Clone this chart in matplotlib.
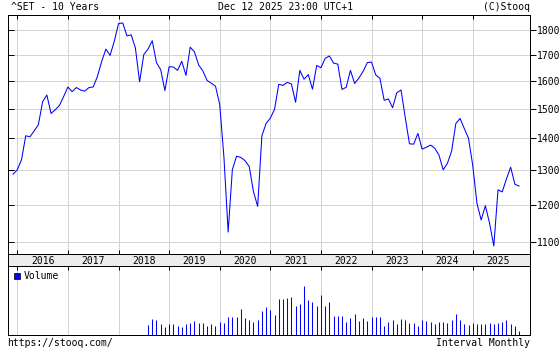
import matplotlib
matplotlib.use("Agg")
import matplotlib.pyplot as plt
import numpy as np
import pandas as pd

# monthly close of ^SET, Dec 2015 .. Dec 2025
close = [1288, 1301, 1332, 1408, 1405, 1424, 1445, 1524, 1548, 1483, 1496, 1511, 1543,
         1577, 1560, 1575, 1566, 1562, 1575, 1577, 1616, 1673, 1722, 1697, 1754,
         1827, 1830, 1776, 1780, 1727, 1596, 1701, 1722, 1756, 1669, 1642, 1564,
         1653, 1652, 1639, 1674, 1620, 1730, 1711, 1660, 1637, 1601, 1591, 1580,
         1514, 1340, 1126, 1302, 1343, 1339, 1329, 1311, 1237, 1195, 1408, 1449,
         1467, 1497, 1587, 1583, 1594, 1588, 1522, 1639, 1606, 1623, 1569, 1658,
         1649, 1685, 1695, 1667, 1663, 1568, 1576, 1639, 1590, 1610, 1635, 1669,
         1671, 1622, 1609, 1529, 1534, 1503, 1556, 1566, 1469, 1382, 1381, 1416,
         1365, 1371, 1378, 1368, 1346, 1301, 1321, 1359, 1449, 1466, 1432, 1400,
         1315, 1204, 1158, 1197, 1149, 1090, 1242, 1236, 1274, 1309, 1258, 1253]

# monthly volume (relative units), Aug 2018 .. Dec 2025
volume = [30, 47, 44, 32, 24, 32, 32, 27, 24, 32, 34, 41, 35, 34, 27, 33, 27, 39, 36, 54,
          54, 54, 78, 51, 45, 39, 44, 72, 84, 74, 60, 108,
          108, 111, 114, 87, 93, 147, 105, 99, 87, 120, 87, 99, 57, 57, 57, 39, 51, 63, 42, 51,
          42, 54, 54, 54, 27, 39, 45, 33, 48, 45, 36, 36, 27, 45, 42, 39, 33, 39, 39, 36,
          45, 63, 45, 33, 30, 36, 33, 33, 33, 36, 33, 36, 39, 45, 33, 27, 12]

years = list(range(2016, 2026))
price_ticks = [1100, 1200, 1300, 1400, 1500, 1600, 1700, 1800]

months = pd.date_range("2015-12-01", periods=len(close), freq="MS")
t = np.asarray(months.year + (months.month - 1) / 12.0)
t_vol = t[-len(volume):]

plt.rcParams["font.family"] = ["DejaVu Sans Mono"]
plt.rcParams["font.size"] = 7

W, H = 560, 350
BLUE = "#0000ff"
GRID = "#d3d3d3"
LW = 0.72


def box(l, top, r, b):
    return [l / W, 1 - b / H, (r - l) / W, (b - top) / H]


fig = plt.figure(figsize=(W / 100, H / 100), dpi=100)
ax = fig.add_axes(box(8, 15, 530, 254))
band = fig.add_axes(box(8, 254, 530, 266))
axv = fig.add_axes(box(8, 266, 530, 335))

xlim = (2015.816, 2026.132)

# price panel
ax.set_yscale("log")
ax.plot(t, close, color=BLUE, lw=0.75)
ax.set_xlim(*xlim)
ax.set_ylim(1070, 1864)
ax.set_yticks(price_ticks)
ax.yaxis.set_minor_locator(matplotlib.ticker.NullLocator())
ax.set_xticks(years)
ax.tick_params(axis="y", direction="in", left=True, right=False, labelleft=False,
               length=4, width=LW)
ax.tick_params(axis="x", direction="in", top=True, bottom=True, labelbottom=False,
               length=3, width=LW)
ax.grid(True, color=GRID, lw=LW)
ax.set_axisbelow(True)

axr = ax.twinx()
axr.set_yscale("log")
axr.set_ylim(ax.get_ylim())
axr.set_yticks(price_ticks)
axr.set_yticklabels([str(v) for v in price_ticks])
axr.yaxis.set_minor_locator(matplotlib.ticker.NullLocator())
axr.tick_params(axis="y", direction="out", length=4, width=LW, pad=1)

for a in (ax, axr, band, axv):
    for s in a.spines.values():
        s.set_linewidth(LW)

# year label band
band.set_facecolor("#ececec")
band.set_xlim(*xlim)
band.set_ylim(0, 1)
band.set_yticks([])
band.set_xticks([])
for y in years:
    band.text(y + 0.5, 0.45, str(y), ha="center", va="center")

# volume panel
axv.vlines(t_vol, 0, volume, colors=BLUE, lw=0.75)
axv.set_xlim(*xlim)
axv.set_ylim(-1, 206)
axv.set_yticks([])
axv.set_xticks(years)
axv.tick_params(axis="x", direction="in", top=True, bottom=False, labelbottom=False,
                length=3, width=LW)
axv.grid(True, axis="x", color=GRID, lw=LW)
axv.set_axisbelow(True)

fig.add_artist(plt.Rectangle((14 / W, 1 - 279 / H), 6 / W, 6 / H, transform=fig.transFigure,
                             fc=BLUE, ec="black", lw=0.5))
fig.text(24 / W, 1 - 276 / H, "Volume", va="center")

# header / footer
fig.text(11 / W, 1 - 7 / H, "^SET - 10 Years", va="center")
fig.text(218 / W, 1 - 7 / H, "Dec 12 2025 23:00 UTC+1", va="center")
fig.text(530 / W, 1 - 7 / H, "(C)Stooq", va="center", ha="right")
fig.text(7 / W, 1 - 343 / H, "https://stooq.com/", va="center")
fig.text(530 / W, 1 - 343 / H, "Interval Monthly", va="center", ha="right")

fig.savefig("out.png", dpi=100)
